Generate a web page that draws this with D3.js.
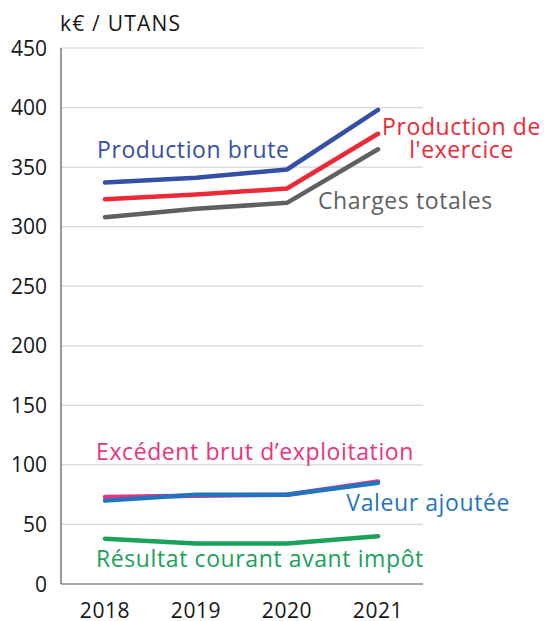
<!DOCTYPE html>
<html><head><meta charset="utf-8">
<script src="https://cdn.jsdelivr.net/npm/d3@7"></script>
<style>body{margin:0;background:#fff}svg{display:block}text{font-family:"Open Sans",Lato,sans-serif}</style>
</head><body>
<svg id="c" width="544" height="621"></svg>
<script>
const years = ["2018","2019","2020","2021"];
const yTicks = [0,50,100,150,200,250,300,350,400,450];
const productionBrute = [337,341,348,398];
const productionExercice = [323,327,332,378];
const chargesTotales = [308,315,320,365];
const excedentBrut = [73,74,75,86];
const valeurAjoutee = [70,75,75,85];
const resultatCourant = [38,34,34,40];
const seriesNames = ["Production brute","Production de l'exercice","Charges totales","Excédent brut d\u2019exploitation","Valeur ajoutée","Résultat courant avant impôt"];
const seriesValues = [productionBrute,productionExercice,chargesTotales,excedentBrut,valeurAjoutee,resultatCourant];
const colors = ["#3450a4","#ec2a37","#5f6064","#e8347e","#1f75be","#1aa15a"];

const svg = d3.select("#c");
const x = d3.scalePoint().domain(years).range([105,378]);
const y = d3.scaleLinear().domain([0,450]).range([584,48]);
const left = 61, right = 423;

svg.append("g").selectAll("line").data(yTicks.filter(d=>d>0)).join("line")
  .attr("x1",left).attr("x2",right).attr("y1",d=>y(d)).attr("y2",d=>y(d))
  .attr("stroke","#d6d6d6").attr("stroke-width",1.2);
svg.append("g").selectAll("text").data(yTicks).join("text")
  .attr("x",47).attr("y",d=>y(d)).attr("dy","0.36em").attr("text-anchor","end")
  .attr("font-size",21).attr("fill","#161616").text(d=>d);
svg.append("line").attr("x1",left).attr("x2",left).attr("y1",y(450)).attr("y2",y(0)).attr("stroke","#555").attr("stroke-width",1.2);
svg.append("line").attr("x1",left).attr("x2",right).attr("y1",y(0)).attr("y2",y(0)).attr("stroke","#555").attr("stroke-width",1.2);
svg.append("g").selectAll("text").data(years).join("text")
  .attr("x",d=>x(d)).attr("y",618).attr("text-anchor","middle")
  .attr("font-size",21).attr("letter-spacing",0.6).attr("fill","#161616").text(d=>d);
svg.append("text").attr("x",60).attr("y",31).attr("font-size",21).attr("letter-spacing",1.2).attr("fill","#161616").text("k€ / UTANS");

const line = d3.line().x((d,i)=>x(years[i])).y(d=>y(d));
svg.append("g").selectAll("path").data(seriesValues).join("path")
  .attr("d",line).attr("fill","none").attr("stroke",(d,i)=>colors[i])
  .attr("stroke-width",4.5).attr("stroke-linecap","round").attr("stroke-linejoin","round");

const labels = [
  {i:0, lines:["Production brute"], xs:[97], y:150, anchor:"start"},
  {i:1, lines:["Production de","l'exercice"], xs:[541,514], y:127, anchor:"end"},
  {i:2, lines:["Charges totales"], xs:[318], y:201, anchor:"start"},
  {i:3, lines:["Excédent brut d\u2019exploitation"], xs:[96], y:452, anchor:"start"},
  {i:4, lines:["Valeur ajoutée"], xs:[510], y:503, anchor:"end"},
  {i:5, lines:["Résultat courant avant impôt"], xs:[96], y:559, anchor:"start"}
];
labels.forEach(l=>{
  const t = svg.append("text").attr("font-size",23).attr("letter-spacing",0.6).attr("fill",colors[l.i]).attr("text-anchor",l.anchor);
  l.lines.forEach((s,k)=>{
    t.append("tspan").attr("x", l.xs[k]).attr("y",l.y+k*23).attr("dy","0.36em").text(s);
  });
});
</script>
</body></html>
